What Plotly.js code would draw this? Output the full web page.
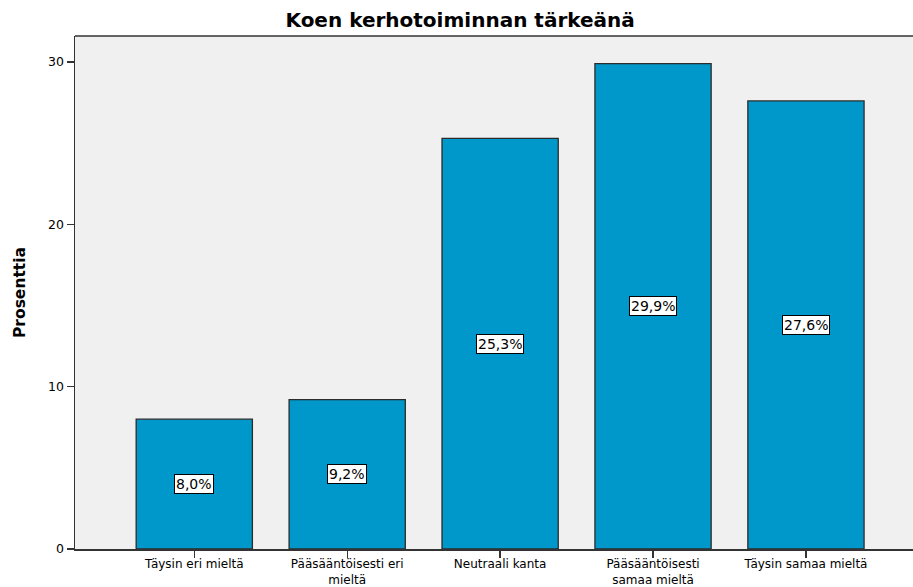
<!DOCTYPE html>
<html>
<head>
<meta charset="utf-8">
<script src="https://cdn.plot.ly/plotly-3.0.1.min.js"></script>
<style>html,body{margin:0;padding:0;background:#fff;}#chart{width:913px;height:587px;}</style>
</head>
<body>
<div id="chart"></div>
<script>
var categories = ["Täysin eri mieltä", "Pääsääntöisesti eri<br>mieltä", "Neutraali kanta", "Pääsääntöisesti<br>samaa mieltä", "Täysin samaa mieltä"];
var values = [8.0, 9.2, 25.3, 29.9, 27.6];
var yTicks = [0, 10, 20, 30];
var titleText = "Koen kerhotoiminnan tärkeänä";
var yTitle = "Prosenttia";

var FONT = 'DejaVu Sans, Verdana, sans-serif';
var xIdx = categories.map(function(_, i){ return i; });

var trace = {
  type: 'bar',
  x: xIdx,
  y: values,
  width: 0.76,
  marker: {color: '#0098CA', line: {color: '#2b2b2b', width: 1.3}},
  hoverinfo: 'skip'
};

var annotations = values.map(function(v, i){
  return {
    x: i, y: v / 2, xref: 'x', yref: 'y',
    text: v.toFixed(1).replace('.', ',') + '%',
    showarrow: false,
    bgcolor: '#ffffff', bordercolor: '#000000', borderwidth: 1, borderpad: 1,
    font: {family: FONT, size: 14, color: '#000'}
  };
});

var layout = {
  width: 913, height: 587,
  margin: {l: 75, r: 0, t: 36, b: 38},
  paper_bgcolor: '#ffffff',
  plot_bgcolor: '#f0f0f0',
  title: {text: '<b>' + titleText + '</b>', x: 0.504, xref: 'container', xanchor: 'center', y: 0.966, yref: 'container', yanchor: 'middle',
          font: {family: FONT, size: 20, color: '#000'}},
  xaxis: {
    range: [-0.78, 4.7],
    tickmode: 'array', tickvals: xIdx, ticktext: categories,
    showgrid: false, zeroline: false,
    showline: true, linecolor: '#333', linewidth: 1.5,
    ticks: 'outside', ticklen: 7, tickwidth: 1.3, tickcolor: '#333',
    ticklabelstandoff: -4,
    tickfont: {family: FONT, size: 12, color: '#000'},
    fixedrange: true
  },
  yaxis: {
    range: [0, 31.6],
    tickmode: 'array', tickvals: yTicks,
    showgrid: false, zeroline: false,
    showline: true, linecolor: '#333', linewidth: 1.5,
    ticks: 'outside', ticklen: 7, tickwidth: 1.3, tickcolor: '#333',
    tickfont: {family: FONT, size: 12.5, color: '#000'},
    title: {text: '<b>' + yTitle + '</b>', standoff: 18, font: {family: FONT, size: 15.5, color: '#000'}},
    fixedrange: true
  },
  shapes: [{type: 'line', xref: 'paper', yref: 'paper', x0: 0, x1: 1, y0: 1, y1: 1, line: {color: '#333', width: 1.5}}],
  annotations: annotations,
  showlegend: false
};

Plotly.newPlot('chart', [trace], layout, {displayModeBar: false, staticPlot: true});
</script>
</body>
</html>
